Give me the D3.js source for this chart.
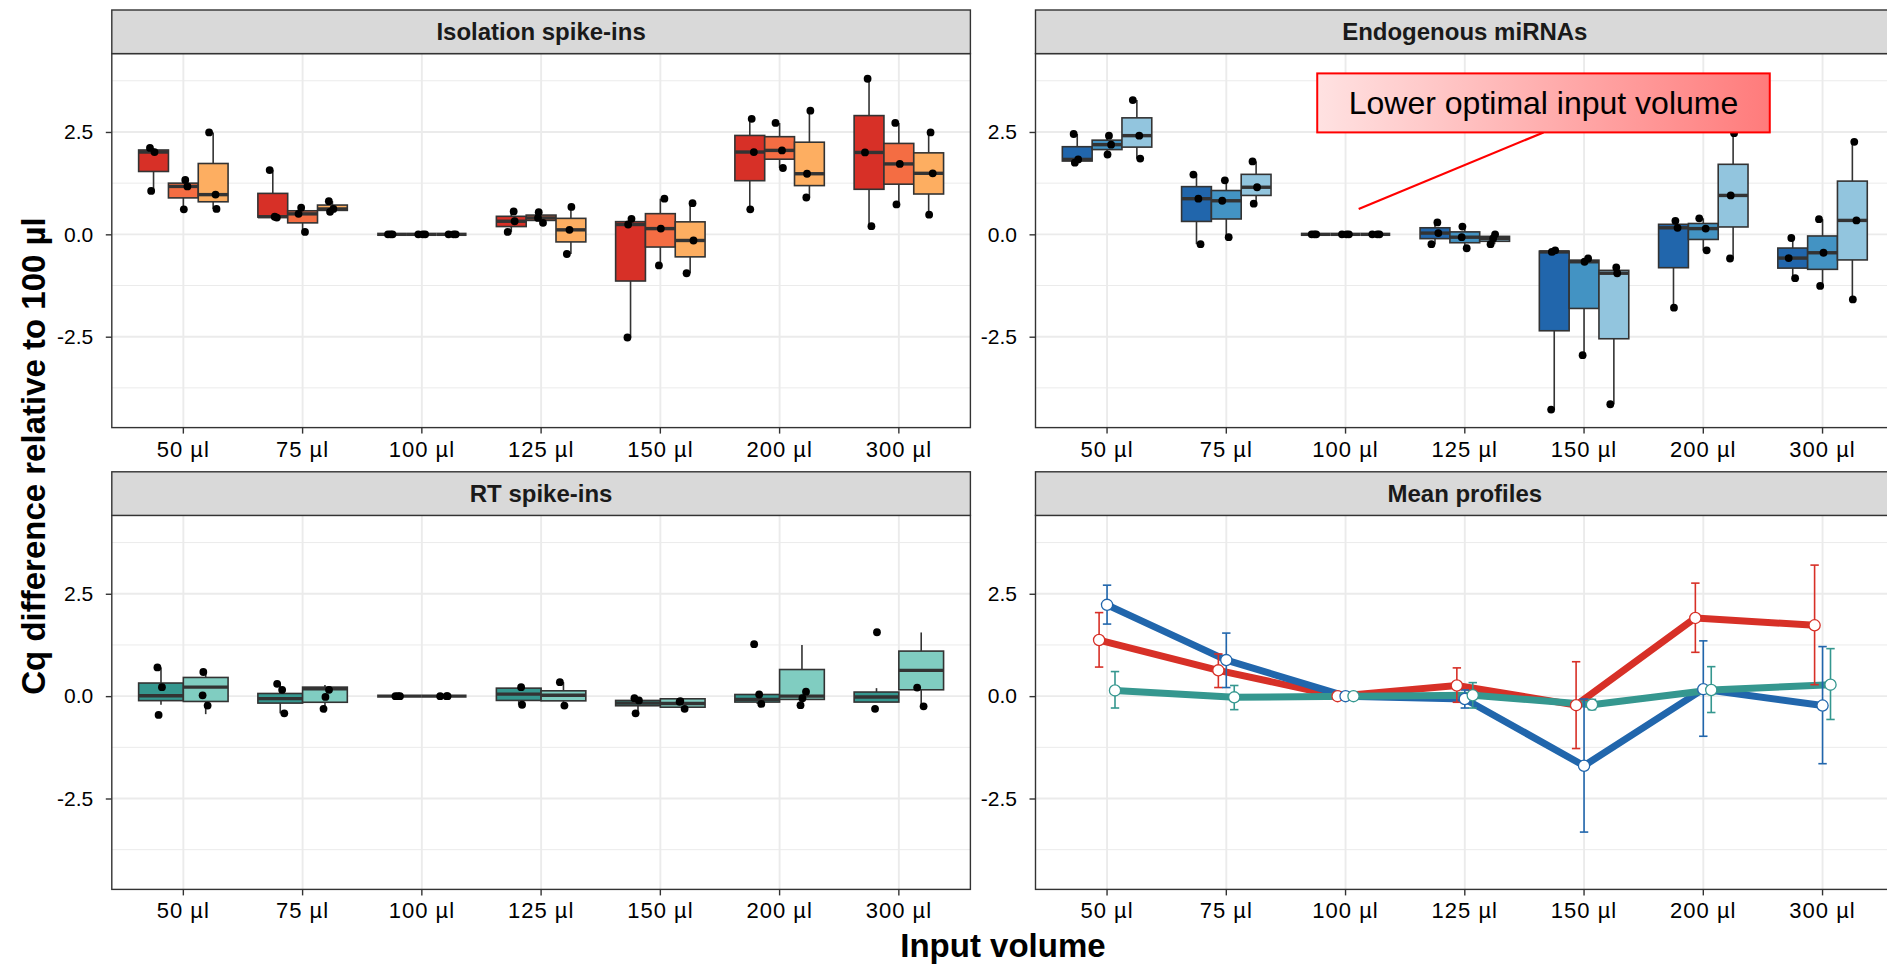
<!DOCTYPE html>
<html>
<head>
<meta charset="utf-8">
<script src="https://cdn.jsdelivr.net/npm/d3@7"></script>
<style>
  html, body { margin: 0; padding: 0; background: #ffffff; }
  svg { display: block; font-family: "Liberation Sans", Arial, Helvetica, sans-serif; }
</style>
</head>
<body>
<svg id="chart" width="1887" height="964"></svg>
<script>
// ---------------------------------------------------------------
// Data
// ---------------------------------------------------------------
const volumes = ["50 µl", "75 µl", "100 µl", "125 µl", "150 µl", "200 µl", "300 µl"];
const yTicks = [-2.5, 0, 2.5];
const yMinorTicks = [-3.75, -1.25, 1.25, 3.75];

// Isolation spike-ins: replicate Cq differences per input volume
const isoSpikeA = [[2.11, 2.01, 1.06], [1.57, 0.43, 0.41], [0, 0, 0], [0.56, 0.32, 0.06], [0.38, 0.24, -2.52], [2.82, 2.01, 0.61], [3.80, 2.00, 0.20]];
const isoSpikeB = [[1.33, 1.17, 0.61], [0.65, 0.50, 0.06], [0, 0, 0], [0.54, 0.40, 0.28], [0.87, 0.14, -0.76], [2.72, 2.05, 1.62], [2.72, 1.72, 0.73]];
const isoSpikeC = [[2.49, 0.97, 0.62], [0.81, 0.62, 0.55], [0, 0, 0], [0.67, 0.11, -0.48], [0.76, -0.15, -0.95], [3.02, 1.48, 0.90], [2.49, 1.49, 0.48]];

// Endogenous miRNAs: replicate Cq differences per input volume
const endoMiRA = [[2.45, 1.83, 1.75], [1.46, 0.87, -0.24], [0, 0, 0], [0.29, 0.03, -0.24], [-0.39, -0.43, -4.28], [0.33, 0.16, -1.79], [-0.09, -0.58, -1.07]];
const endoMiRB = [[2.41, 2.19, 1.95], [1.32, 0.82, -0.07], [0, 0, 0], [0.19, -0.07, -0.34], [-0.59, -0.67, -2.95], [0.39, 0.14, -0.39], [0.37, -0.45, -1.26]];
const endoMiRC = [[3.28, 2.41, 1.85], [1.78, 1.15, 0.75], [0, 0, 0], [0.00, -0.10, -0.24], [-0.81, -0.95, -4.15], [2.47, 0.95, -0.59], [2.26, 0.34, -1.59]];

// RT spike-ins: box statistics [lower whisker, Q1, median, Q3, upper whisker]
const rtSpikeAStats = [[-0.21, -0.11, 0.01, 0.32, 0.70], [-0.42, -0.17, -0.06, 0.065, 0.30], [0, 0, 0, 0, 0], [-0.21, -0.105, 0.05, 0.195, 0.22], [-0.42, -0.235, -0.17, -0.105, -0.05], [-0.19, -0.145, -0.08, 0.04, 0.04], [-0.145, -0.145, -0.02, 0.10, 0.195]];
const rtSpikeBStats = [[-0.44, -0.13, 0.22, 0.456, 0.59], [-0.40, -0.15, 0.18, 0.22, 0.27], [0, 0, 0, 0, 0], [-0.23, -0.115, 0.02, 0.13, 0.34], [-0.31, -0.27, -0.18, -0.065, -0.065], [-0.08, -0.08, 0.00, 0.65, 1.25], [-0.25, 0.155, 0.63, 1.10, 1.555]];
// RT spike-ins: individual measurements
const rtSpikeAPoints = [[0.70, 0.22, -0.46], [0.30, 0.155, -0.42], [0, 0, 0], [0.22, -0.21], [-0.05, -0.105, -0.42], [1.27, 0.04, -0.19], [1.56, -0.31]];
const rtSpikeBPoints = [[0.59, 0.02, -0.23], [0.155, -0.02, -0.31], [0, 0, 0], [0.34, -0.23], [-0.12, -0.14, -0.31], [0.11, -0.05, -0.22], [0.21, -0.25]];

// Mean profiles: mean and error-bar bounds per input volume
const meanIsolation   = [1.37, 0.63, 0, 0.26, -0.22, 1.91, 1.73];
const meanIsolationLo = [0.71, 0.21, 0, -0.15, -1.28, 1.07, 0.28];
const meanIsolationHi = [2.04, 1.03, 0, 0.69, 0.84, 2.76, 3.20];
const meanEndogenous   = [2.23, 0.88, 0, -0.07, -1.70, 0.17, -0.23];
const meanEndogenousLo = [1.76, 0.21, 0, -0.29, -3.32, -0.98, -1.65];
const meanEndogenousHi = [2.71, 1.54, 0, 0.15, -0.07, 1.35, 1.21];
const meanRT   = [0.14, -0.03, 0, 0.02, -0.21, 0.15, 0.28];
const meanRTLo = [-0.29, -0.33, 0, -0.29, -0.33, -0.40, -0.57];
const meanRTHi = [0.60, 0.26, 0, 0.33, -0.08, 0.72, 1.16];

// Callout in the endogenous panel (category index, value)
const calloutText = "Lower optimal input volume";
const calloutAt = [3.66, 3.21];
const calloutFrom = [2.11, 0.62];

// ---------------------------------------------------------------
// Styles and layout
// ---------------------------------------------------------------
const colors = {
  isoA: "#D73027", isoB: "#F46D43", isoC: "#FDAE61",
  endoA: "#2166AC", endoB: "#4393C3", endoC: "#92C5DE",
  rtA: "#35978F", rtB: "#80CDC1",
  ink: "#333333", grid: "#EBEBEB", strip: "#D9D9D9"
};
const layout = {
  colX: [111.8, 1035.5], panelW: 858.6,
  stripTop: [10, 471.8], stripH: 43.6, panelH: 374,
  yDomain: [-4.72, 4.414]
};
// small horizontal scatter of replicate dots (category units)
const jitterOffsets = [-0.030, 0.020, -0.012, 0.034, -0.026, 0.008, 0.028, -0.034, 0.004, 0.016, -0.020];

// Five-number summary (Tukey whiskers) from replicate values
function boxStats(vals) {
  const s = vals.slice().sort(d3.ascending);
  const q1 = d3.quantile(s, 0.25), med = d3.quantile(s, 0.5), q3 = d3.quantile(s, 0.75);
  const iqr = q3 - q1;
  const lw = d3.min(s.filter(v => v >= q1 - 1.5 * iqr));
  const uw = d3.max(s.filter(v => v <= q3 + 1.5 * iqr));
  return [lw, q1, med, q3, uw];
}

const panels = [
  { title: "Isolation spike-ins", col: 0, row: 0, kind: "box",
    series: [
      { color: colors.isoA, points: isoSpikeA, stats: isoSpikeA.map(boxStats) },
      { color: colors.isoB, points: isoSpikeB, stats: isoSpikeB.map(boxStats) },
      { color: colors.isoC, points: isoSpikeC, stats: isoSpikeC.map(boxStats) }
    ] },
  { title: "Endogenous miRNAs", col: 1, row: 0, kind: "box", callout: true,
    series: [
      { color: colors.endoA, points: endoMiRA, stats: endoMiRA.map(boxStats) },
      { color: colors.endoB, points: endoMiRB, stats: endoMiRB.map(boxStats) },
      { color: colors.endoC, points: endoMiRC, stats: endoMiRC.map(boxStats) }
    ] },
  { title: "RT spike-ins", col: 0, row: 1, kind: "box",
    series: [
      { color: colors.rtA, points: rtSpikeAPoints, stats: rtSpikeAStats },
      { color: colors.rtB, points: rtSpikeBPoints, stats: rtSpikeBStats }
    ] },
  { title: "Mean profiles", col: 1, row: 1, kind: "mean",
    series: [
      { color: colors.isoA, mean: meanIsolation, lo: meanIsolationLo, hi: meanIsolationHi },
      { color: colors.endoA, mean: meanEndogenous, lo: meanEndogenousLo, hi: meanEndogenousHi },
      { color: colors.rtA, mean: meanRT, lo: meanRTLo, hi: meanRTHi }
    ] }
];

// ---------------------------------------------------------------
// Drawing
// ---------------------------------------------------------------
const svg = d3.select("#chart");
svg.append("rect").attr("width", 1887).attr("height", 964).attr("fill", "#ffffff");

const defs = svg.append("defs");
const grad = defs.append("linearGradient").attr("id", "calloutFill")
  .attr("x1", "0%").attr("x2", "100%").attr("y1", "0%").attr("y2", "0%");
grad.append("stop").attr("offset", "0%").attr("stop-color", "#FFE2E2");
grad.append("stop").attr("offset", "100%").attr("stop-color", "#FF7B7B");

panels.forEach(p => {
  const px = layout.colX[p.col];
  const sTop = layout.stripTop[p.row];
  const top = sTop + layout.stripH;
  const bottom = top + layout.panelH;
  const g = svg.append("g");

  const x = d3.scaleBand().domain(volumes)
    .range([px, px + layout.panelW]).paddingInner(0).paddingOuter(0.1);
  const step = x.step();
  const xc = i => x(volumes[0]) + x.bandwidth() / 2 + i * step;
  const y = d3.scaleLinear().domain(layout.yDomain).range([bottom, top]);

  // gridlines
  g.append("g").selectAll("line").data(yMinorTicks).join("line")
    .attr("x1", px).attr("x2", px + layout.panelW)
    .attr("y1", d => y(d)).attr("y2", d => y(d))
    .attr("stroke", colors.grid).attr("stroke-width", 1);
  g.append("g").selectAll("line").data(yTicks).join("line")
    .attr("x1", px).attr("x2", px + layout.panelW)
    .attr("y1", d => y(d)).attr("y2", d => y(d))
    .attr("stroke", colors.grid).attr("stroke-width", 1.9);
  g.append("g").selectAll("line").data(volumes).join("line")
    .attr("x1", d => x(d) + x.bandwidth() / 2).attr("x2", d => x(d) + x.bandwidth() / 2)
    .attr("y1", top).attr("y2", bottom)
    .attr("stroke", colors.grid).attr("stroke-width", 1.9);

  if (p.kind === "box") {
    const k = p.series.length;
    const bw = 0.75 / k * step;
    const boxes = g.append("g");
    p.series.forEach((s, j) => {
      const off = (j - (k - 1) / 2) * bw;
      s.stats.forEach((st, i) => {
        const cx = xc(i) + off;
        const [lw, q1, med, q3, uw] = st;
        const bg = boxes.append("g");
        bg.append("line").attr("x1", cx).attr("x2", cx).attr("y1", y(q3)).attr("y2", y(uw))
          .attr("stroke", colors.ink).attr("stroke-width", 1.6);
        bg.append("line").attr("x1", cx).attr("x2", cx).attr("y1", y(q1)).attr("y2", y(lw))
          .attr("stroke", colors.ink).attr("stroke-width", 1.6);
        bg.append("rect").attr("x", cx - bw / 2).attr("width", bw)
          .attr("y", y(q3)).attr("height", Math.max(0, y(q1) - y(q3)))
          .attr("fill", s.color).attr("stroke", colors.ink).attr("stroke-width", 1.6);
        bg.append("line").attr("x1", cx - bw / 2).attr("x2", cx + bw / 2)
          .attr("y1", y(med)).attr("y2", y(med))
          .attr("stroke", colors.ink).attr("stroke-width", 3.4);
      });
    });
    const dots = g.append("g");
    let n = 0;
    p.series.forEach((s, j) => {
      const off = (j - (k - 1) / 2) * bw;
      s.points.forEach((vals, i) => {
        vals.forEach(v => {
          const jit = jitterOffsets[(n++ * 5 + j * 3) % jitterOffsets.length] * step;
          dots.append("circle").attr("cx", xc(i) + off + jit).attr("cy", y(v))
            .attr("r", 3.9).attr("fill", "#000000");
        });
      });
    });
  } else {
    const dodge = 0.2 / 3 * step;
    const k = p.series.length;
    const pos = (j, i) => xc(i) + (j - (k - 1) / 2) * dodge;
    const line = d3.line();
    p.series.forEach((s, j) => {
      g.append("path")
        .attr("d", line(s.mean.map((m, i) => [pos(j, i), y(m)])))
        .attr("fill", "none").attr("stroke", s.color)
        .attr("stroke-width", 7).attr("stroke-linejoin", "round");
    });
    const cap = 4.2;
    p.series.forEach((s, j) => {
      const eb = g.append("g").attr("stroke", s.color).attr("stroke-width", 1.6);
      s.mean.forEach((m, i) => {
        const cx = pos(j, i);
        eb.append("line").attr("x1", cx).attr("x2", cx).attr("y1", y(s.hi[i])).attr("y2", y(s.lo[i]));
        eb.append("line").attr("x1", cx - cap).attr("x2", cx + cap).attr("y1", y(s.hi[i])).attr("y2", y(s.hi[i]));
        eb.append("line").attr("x1", cx - cap).attr("x2", cx + cap).attr("y1", y(s.lo[i])).attr("y2", y(s.lo[i]));
      });
    });
    p.series.forEach((s, j) => {
      g.append("g").selectAll("circle").data(s.mean).join("circle")
        .attr("cx", (d, i) => pos(j, i)).attr("cy", d => y(d))
        .attr("r", 5.6).attr("fill", "#ffffff")
        .attr("stroke", s.color).attr("stroke-width", 1.3);
    });
  }

  if (p.callout) {
    const cg = g.append("g");
    const lx = xc(calloutAt[0]), ly = y(calloutAt[1]);
    const halfH = 29.5;
    cg.append("line").attr("x1", xc(calloutFrom[0])).attr("y1", y(calloutFrom[1]))
      .attr("x2", lx).attr("y2", ly + halfH)
      .attr("stroke", "#FF0000").attr("stroke-width", 2.2);
    const box = cg.append("rect");
    const t = cg.append("text").attr("x", lx).attr("y", ly).attr("dy", "0.36em")
      .attr("text-anchor", "middle").attr("font-size", 32).attr("fill", "#000000")
      .text(calloutText);
    const tw = t.node().getComputedTextLength();
    const padX = 31.5;
    box.attr("x", lx - tw / 2 - padX).attr("width", tw + 2 * padX)
      .attr("y", ly - halfH).attr("height", 2 * halfH)
      .attr("fill", "url(#calloutFill)").attr("stroke", "#FF0000").attr("stroke-width", 2);
  }

  // panel border
  g.append("rect").attr("x", px).attr("y", top).attr("width", layout.panelW).attr("height", layout.panelH)
    .attr("fill", "none").attr("stroke", colors.ink).attr("stroke-width", 1.4);

  // strip
  g.append("rect").attr("x", px).attr("y", sTop).attr("width", layout.panelW).attr("height", layout.stripH)
    .attr("fill", colors.strip).attr("stroke", colors.ink).attr("stroke-width", 1.4);
  g.append("text").attr("x", px + layout.panelW / 2).attr("y", sTop + layout.stripH / 2)
    .attr("dy", "0.36em").attr("text-anchor", "middle")
    .attr("font-size", 24).attr("font-weight", "bold").attr("fill", "#1A1A1A")
    .text(p.title);

  // axes
  const ax = g.append("g").attr("transform", `translate(0,${bottom})`)
    .call(d3.axisBottom(x).tickSize(6).tickPadding(7.4));
  const ay = g.append("g").attr("transform", `translate(${px},0)`)
    .call(d3.axisLeft(y).tickValues(yTicks).tickFormat(d => d.toFixed(1)).tickSize(6).tickPadding(12.5));
  [ax, ay].forEach(a => {
    a.select(".domain").remove();
    a.selectAll(".tick line").attr("stroke", colors.ink).attr("stroke-width", 1.4);
    a.selectAll(".tick text").attr("fill", "#000000").attr("font-size", 21)
      .attr("font-family", "'Liberation Sans', Arial, sans-serif");
  });
  ax.selectAll(".tick text").attr("font-size", 22).attr("letter-spacing", "1px");
});

// axis titles
svg.append("text").attr("x", (layout.colX[0] + layout.colX[1] + layout.panelW) / 2).attr("y", 957)
  .attr("text-anchor", "middle").attr("font-size", 33).attr("font-weight", "bold").attr("fill", "#000000")
  .text("Input volume");
svg.append("text")
  .attr("transform", "translate(45,456) rotate(-90)")
  .attr("text-anchor", "middle").attr("font-size", 33).attr("font-weight", "bold").attr("fill", "#000000")
  .text("Cq difference relative to 100 µl");
</script>
</body>
</html>
